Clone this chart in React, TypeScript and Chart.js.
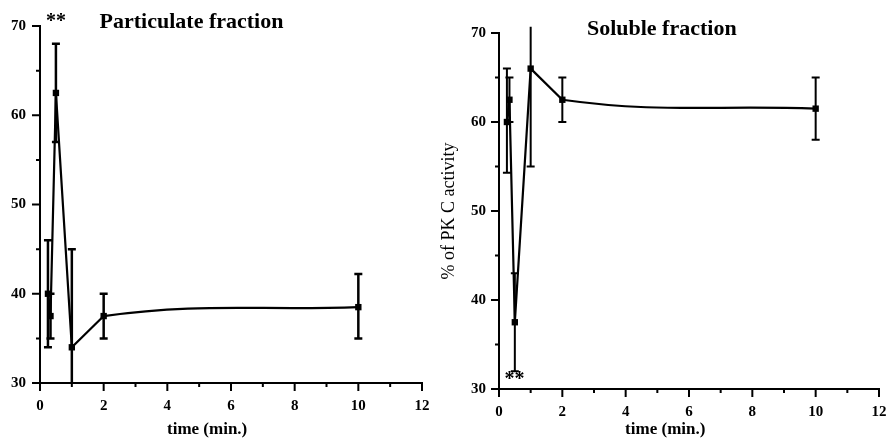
import React, { useEffect, useRef } from "react";
import { Chart, registerables } from "chart.js";

Chart.register(...registerables);

// ---- data ----
const timePoints = [0.25, 0.33, 0.5, 1, 2, 10];

const particulateMean = [40, 37.5, 62.5, 34, 37.5, 38.5];
const particulateLow = [34, 35, 57, 23, 35, 35];
const particulateHigh = [46, 40, 68, 45, 40, 42.2];

const solubleMean = [60, 62.5, 37.5, 66, 62.5, 61.5];
const solubleLow = [54.3, 60, 32, 55, 60, 58];
const solubleHigh = [66, 65, 43, 70.7, 65, 65];

const xMin = 0;
const xMax = 12;
const yMin = 30;
const yMax = 70;

const particulateTitle = "Particulate fraction";
const solubleTitle = "Soluble fraction";
const xAxisTitle = "time (min.)";
const yAxisTitle = "% of PK C activity";
const significance = "**";

const SERIF = "'Liberation Serif', 'DejaVu Serif', serif";

type PanelCfg = {
  mean: number[];
  low: number[];
  high: number[];
  title: string;
  titleX: number;
  titleY: number;
  starX: number;
  starY: number;
  yTitle: string | null;
  yWidth: number;
  xHeight: number;
  padTop: number;
  padRight: number;
  yLabelPad: number;
  xTitleOffset: number;
  errWidth: number;
};

const errorBarPlugin = {
  id: "errorBars",
  afterDatasetsDraw(chart: any, _args: any, opts: any) {
    const { ctx } = chart;
    const x = chart.scales.x;
    const y = chart.scales.y;
    const { xs, low, high, lineWidth, cap } = opts;
    ctx.save();
    ctx.strokeStyle = "#000";
    ctx.lineWidth = lineWidth;
    for (let i = 0; i < xs.length; i++) {
      const px = x.getPixelForValue(xs[i]);
      const lo = Math.max(low[i], y.min);
      const pLo = y.getPixelForValue(lo);
      const pHi = y.getPixelForValue(high[i]);
      ctx.beginPath();
      ctx.moveTo(px, pLo);
      ctx.lineTo(px, pHi);
      if (low[i] >= y.min) {
        ctx.moveTo(px - cap, pLo);
        ctx.lineTo(px + cap, pLo);
      }
      if (high[i] <= y.max) {
        ctx.moveTo(px - cap, pHi);
        ctx.lineTo(px + cap, pHi);
      }
      ctx.stroke();
    }
    ctx.restore();
  },
};

const tickMarkPlugin = {
  id: "tickMarks",
  afterDraw(chart: any, _args: any, opts: any) {
    const { ctx, chartArea } = chart;
    const x = chart.scales.x;
    const y = chart.scales.y;
    ctx.save();
    ctx.strokeStyle = "#000";
    ctx.lineWidth = 2;
    ctx.beginPath();
    x.ticks.forEach((t: any) => {
      const px = x.getPixelForValue(t.value);
      const len = t.value % 2 === 0 ? opts.major : opts.minor;
      ctx.moveTo(px, chartArea.bottom);
      ctx.lineTo(px, chartArea.bottom + len);
    });
    y.ticks.forEach((t: any) => {
      const py = y.getPixelForValue(t.value);
      const len = t.value % 10 === 0 ? opts.major : opts.minor;
      ctx.moveTo(chartArea.left, py);
      ctx.lineTo(chartArea.left - len, py);
    });
    ctx.stroke();
    ctx.restore();
  },
};

const textPlugin = {
  id: "panelTexts",
  afterDraw(chart: any, _args: any, opts: any) {
    const { ctx, chartArea } = chart;
    const x = chart.scales.x;
    const y = chart.scales.y;
    ctx.save();
    ctx.fillStyle = "#000";
    ctx.textAlign = "center";
    ctx.textBaseline = "middle";
    ctx.font = `bold 22px ${SERIF}`;
    ctx.fillText(opts.title, x.getPixelForValue(opts.titleX), y.getPixelForValue(opts.titleY));
    ctx.font = `bold 20px ${SERIF}`;
    ctx.fillText(opts.star, x.getPixelForValue(opts.starX), y.getPixelForValue(opts.starY));
    ctx.font = `bold 17px ${SERIF}`;
    ctx.fillText(opts.xTitle, x.getPixelForValue(5.25), chartArea.bottom + opts.xTitleOffset);
    ctx.restore();
  },
};

function buildChart(canvas: HTMLCanvasElement, cfg: PanelCfg) {
  const points = timePoints.map((t, i) => ({ x: t, y: cfg.mean[i] }));
  const curvePoints = points.slice(3);
  return new Chart(canvas, {
    type: "line",
    data: {
      datasets: [
        {
          data: points,
          borderColor: "#000",
          borderWidth: 2.2,
          tension: 0,
          pointStyle: "rect",
          pointRadius: 4.5,
          pointBackgroundColor: "#000",
          pointBorderColor: "#000",
          pointBorderWidth: 0,
          segment: {
            borderColor: (c: any) => (c.p0DataIndex >= 4 ? "rgba(0,0,0,0)" : "#000"),
          },
        },
        {
          data: curvePoints,
          borderColor: "#000",
          borderWidth: 2.2,
          tension: 0.4,
          pointRadius: 0,
          segment: {
            borderColor: (c: any) => (c.p0DataIndex === 0 ? "rgba(0,0,0,0)" : "#000"),
          },
        },
      ],
    },
    options: {
      animation: false,
      responsive: false,
      events: [],
      layout: { padding: { top: cfg.padTop, right: cfg.padRight, left: 0, bottom: 0 } },
      plugins: {
        legend: { display: false },
        tooltip: { enabled: false },
        title: { display: false },
        errorBars: {
          xs: timePoints,
          low: cfg.low,
          high: cfg.high,
          lineWidth: cfg.errWidth,
          cap: 4,
        },
        tickMarks: { major: 8, minor: 4 },
        panelTexts: {
          title: cfg.title,
          titleX: cfg.titleX,
          titleY: cfg.titleY,
          star: significance,
          starX: cfg.starX,
          starY: cfg.starY,
          xTitle: xAxisTitle,
          xTitleOffset: cfg.xTitleOffset,
        },
      } as any,
      scales: {
        x: {
          type: "linear",
          min: xMin,
          max: xMax,
          grid: { display: false, drawTicks: false },
          border: { display: true, color: "#000", width: 2 },
          ticks: {
            stepSize: 1,
            autoSkip: false,
            maxRotation: 0,
            padding: 14,
            color: "#000",
            font: { family: SERIF, size: 15, weight: "bold" },
            callback: (v: any) => (Number(v) % 2 === 0 ? String(v) : ""),
          },
          afterFit: (s: any) => {
            s.height = cfg.xHeight;
            s.paddingLeft = 0;
            s.paddingRight = 0;
          },
        },
        y: {
          type: "linear",
          min: yMin,
          max: yMax,
          grid: { display: false, drawTicks: false },
          border: { display: true, color: "#000", width: 2 },
          title: cfg.yTitle
            ? {
                display: true,
                text: cfg.yTitle,
                color: "#000",
                padding: 0,
                font: { family: SERIF, size: 18, lineHeight: 1 },
              }
            : { display: false },
          ticks: {
            stepSize: 5,
            autoSkip: false,
            padding: cfg.yLabelPad,
            color: "#000",
            font: { family: SERIF, size: 15, weight: "bold" },
            callback: (v: any) => (Number(v) % 10 === 0 ? String(v) : ""),
          },
          afterFit: (s: any) => {
            s.width = cfg.yWidth;
            s.paddingTop = 0;
            s.paddingBottom = 0;
          },
        },
      },
    },
    plugins: [errorBarPlugin, tickMarkPlugin, textPlugin],
  } as any);
}

const leftCfg: PanelCfg = {
  mean: particulateMean,
  low: particulateLow,
  high: particulateHigh,
  title: particulateTitle,
  titleX: 4.76,
  titleY: 70.45,
  starX: 0.5,
  starY: 70.5,
  yTitle: null,
  yWidth: 40,
  xHeight: 58,
  padTop: 26,
  padRight: 18,
  yLabelPad: 14,
  xTitleOffset: 47,
  errWidth: 2.5,
};

const rightCfg: PanelCfg = {
  mean: solubleMean,
  low: solubleLow,
  high: solubleHigh,
  title: solubleTitle,
  titleX: 5.14,
  titleY: 70.45,
  starX: 0.49,
  starY: 31.0,
  yTitle: yAxisTitle,
  yWidth: 59,
  xHeight: 52,
  padTop: 33,
  padRight: 7,
  yLabelPad: 13,
  xTitleOffset: 41,
  errWidth: 2,
};

function Panel({ cfg, width }: { cfg: PanelCfg; width: number }) {
  const ref = useRef<HTMLCanvasElement | null>(null);
  useEffect(() => {
    if (!ref.current) return;
    const chart = buildChart(ref.current, cfg);
    return () => chart.destroy();
  }, [cfg]);
  return <canvas ref={ref} width={width} height={441} style={{ display: "block" }} />;
}

export default function App() {
  return (
    <div style={{ position: "absolute", left: 0, top: 0, width: 886, height: 441, background: "#fff" }}>
      <div style={{ position: "absolute", left: 0, top: 0, width: 440, height: 441 }}>
        <Panel cfg={leftCfg} width={440} />
      </div>
      <div style={{ position: "absolute", left: 440, top: 0, width: 446, height: 441 }}>
        <Panel cfg={rightCfg} width={446} />
      </div>
    </div>
  );
}
